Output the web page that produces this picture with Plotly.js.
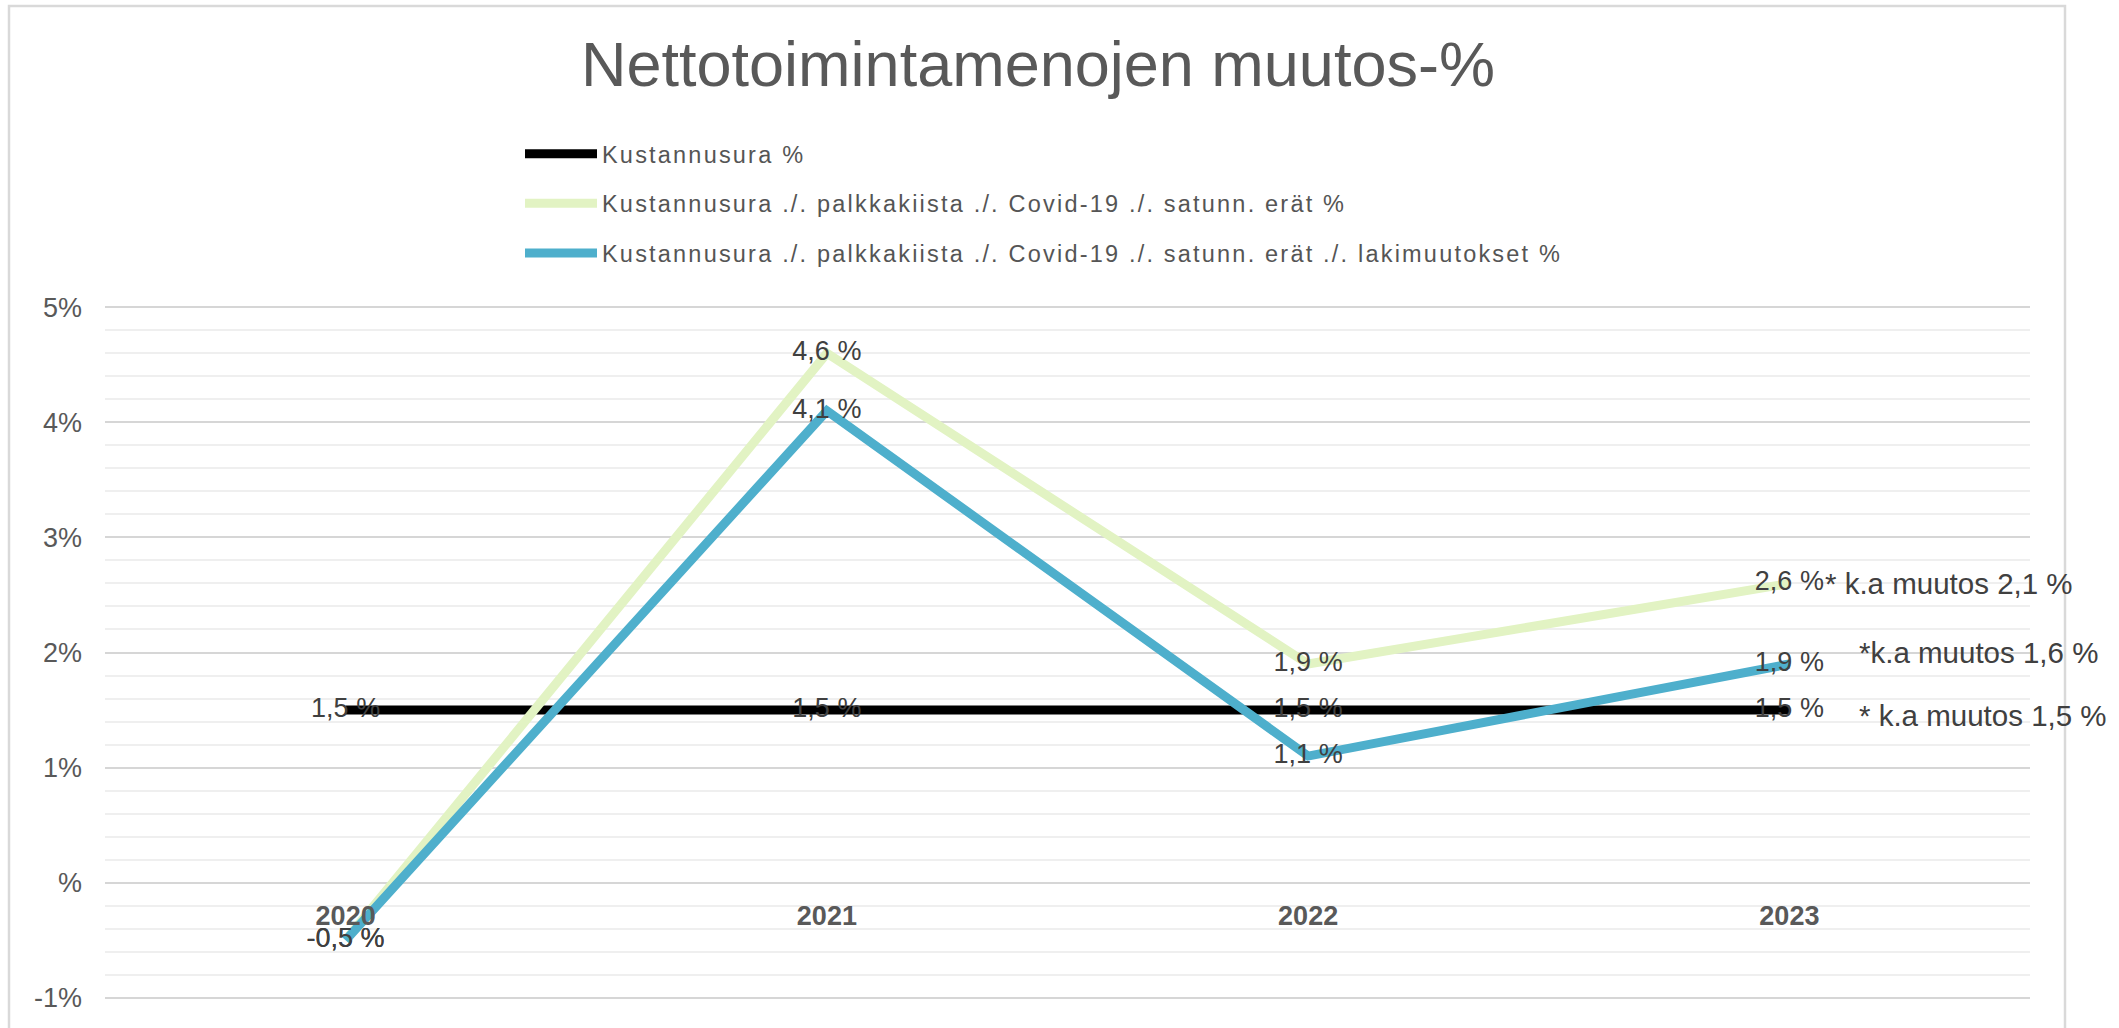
<!DOCTYPE html>
<html>
<head>
<meta charset="utf-8">
<script src="https://cdn.plot.ly/plotly-3.0.1.min.js"></script>
<style>
  html, body { margin: 0; padding: 0; background: #ffffff; }
  #chart { width: 2119px; height: 1028px; }
  .legend .legendtext { letter-spacing: 2.2px; }
  .legend .scrollbox { clip-path: none !important; }
</style>
</head>
<body>
<div id="chart"></div>
<script>
// ---- data ----
const years = ['2020', '2021', '2022', '2023'];
const seriesNames = [
  'Kustannusura %',
  'Kustannusura ./. palkkakiista ./. Covid-19 ./. satunn. erät %',
  'Kustannusura ./. palkkakiista ./. Covid-19 ./. satunn. erät ./. lakimuutokset %'
];
const kustannusura = [1.5, 1.5, 1.5, 1.5];
const ilmanPalkkakiistaa = [-0.5, 4.6, 1.9, 2.6];
const ilmanLakimuutoksia = [-0.5, 4.1, 1.1, 1.9];
const yTickVals = [-1, 0, 1, 2, 3, 4, 5];
const yTickText = ['-1%', '%', '1%', '2%', '3%', '4%', '5%'];
const averageNotes = ['* k.a muutos 2,1 %', '*k.a muutos 1,6 %', '* k.a muutos 1,5 %'];
const averageNoteLevels = [2.6, 2.0, 1.45];

// ---- layout geometry (pixels) ----
const W = 2119, H = 1028;
const PL = 105, PR = 2030, PT = 305, PB = 1000;
const Y_RANGE = [-1.02, 5.02];
const px2paperX = x => (x - PL) / (PR - PL);
const px2paperY = y => (PB - y) / (PB - PT);

// ---- styling ----
const FONT = 'Liberation Sans, Arial, sans-serif';
const colors = ['#000000', '#e2f3c3', '#4eafcc'];
const fmt = v => v.toFixed(1).replace('.', ',') + ' %';

const seriesValues = [kustannusura, ilmanPalkkakiistaa, ilmanLakimuutoksia];
const traces = seriesValues.map((vals, i) => ({
  type: 'scatter',
  mode: 'lines+text',
  x: years,
  y: vals,
  name: seriesNames[i],
  legendgroup: 'g' + i,
  line: { color: colors[i], width: 9 },
  text: vals.map(fmt),
  textposition: 'middle center',
  textfont: { family: FONT, size: 27, color: '#404040' },
  hoverinfo: 'skip',
  cliponaxis: false
}));

const lastIdx = years.length - 1;
const annotations = averageNotes.map((t, i) => ({
  text: t,
  xref: 'x', yref: 'y',
  x: lastIdx,
  y: averageNoteLevels[i],
  xanchor: 'left', yanchor: 'middle',
  xshift: i === 0 ? 34 : 68,
  showarrow: false,
  font: { family: FONT, size: 29.5, color: '#404040' }
}));
annotations.push({
  text: 'Nettotoimintamenojen muutos-%',
  xref: 'paper', yref: 'paper',
  x: px2paperX(1038), y: px2paperY(64),
  xanchor: 'center', yanchor: 'middle',
  showarrow: false,
  font: { family: FONT, size: 63, color: '#595959' }
});

const layout = {
  width: W,
  height: H,
  paper_bgcolor: '#ffffff',
  plot_bgcolor: '#ffffff',
  margin: { l: PL, r: W - PR, t: PT, b: H - PB, pad: 0 },
  font: { family: FONT, color: '#595959' },
  showlegend: true,
  legend: {
    x: px2paperX(520), y: px2paperY(132),
    xanchor: 'left', yanchor: 'top',
    orientation: 'v',
    traceorder: 'grouped',
    tracegroupgap: 16,
    itemwidth: 72,
    bgcolor: 'rgba(0,0,0,0)',
    font: { family: FONT, size: 23.5, color: '#555555' }
  },
  xaxis: {
    type: 'category',
    categoryorder: 'array',
    categoryarray: years,
    range: [-0.5, 3.5],
    anchor: 'free',
    position: (0 - Y_RANGE[0]) / (Y_RANGE[1] - Y_RANGE[0]),
    showgrid: false,
    showline: false,
    zeroline: false,
    ticks: '',
    ticklabelstandoff: 14,
    tickfont: { family: FONT, size: 27, color: '#595959', weight: 'bold' },
    fixedrange: true
  },
  yaxis: {
    range: Y_RANGE,
    tickmode: 'array',
    tickvals: yTickVals,
    ticktext: yTickText,
    showgrid: true,
    gridcolor: '#d6d6d6',
    gridwidth: 2,
    zeroline: false,
    showline: false,
    ticks: '',
    ticklabelstandoff: 22,
    tickfont: { family: FONT, size: 27, color: '#595959' },
    minor: {
      tickmode: 'linear',
      tick0: 0,
      dtick: 0.2,
      showgrid: true,
      gridcolor: '#efefef',
      gridwidth: 2
    },
    fixedrange: true
  },
  shapes: [{
    type: 'rect',
    xref: 'paper', yref: 'paper',
    x0: px2paperX(9), x1: px2paperX(2065), y0: px2paperY(1040), y1: px2paperY(6),
    line: { color: '#d9d9d9', width: 2.5 },
    fillcolor: 'rgba(0,0,0,0)',
    layer: 'below'
  }],
  annotations: annotations
};

Plotly.newPlot('chart', traces, layout, { displayModeBar: false, staticPlot: true });
</script>
</body>
</html>
